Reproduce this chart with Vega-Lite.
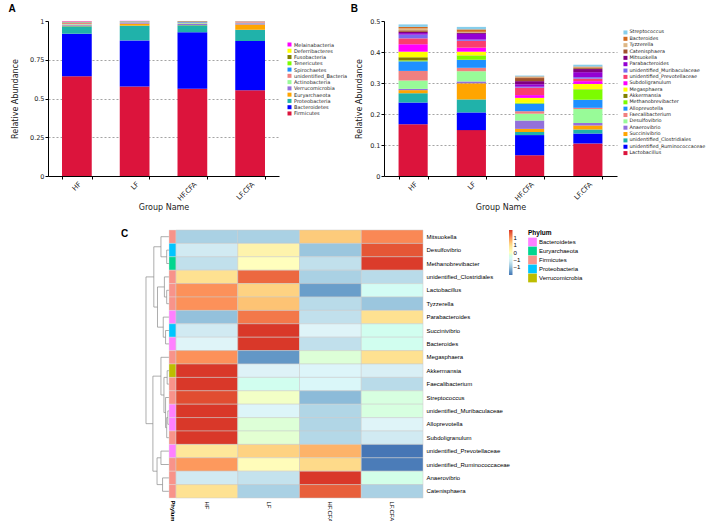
{
"$schema": "https://vega.github.io/schema/vega-lite/v6.json",
"padding": {"left": 8, "top": 4, "right": 0, "bottom": 0},
"background": "white",
"config": {"view": {"stroke": null}, "font": "DejaVu Sans"},
"datasets": {
"phylum": [
{"group":"HF","phylum":"Firmicutes","value":0.643},{"group":"HF","phylum":"Bacteroidetes","value":0.275},{"group":"HF","phylum":"Proteobacteria","value":0.048},{"group":"HF","phylum":"Euryarchaeota","value":0.004},{"group":"HF","phylum":"Verrucomicrobia","value":0.006},{"group":"HF","phylum":"Actinobacteria","value":0.004},{"group":"HF","phylum":"unidentified_Bacteria","value":0.010},{"group":"HF","phylum":"Spirochaetes","value":0.002},{"group":"HF","phylum":"Tenericutes","value":0.002},{"group":"HF","phylum":"Fusobacteria","value":0.001},{"group":"HF","phylum":"Deferribacteres","value":0.002},{"group":"HF","phylum":"Melainabacteria","value":0.003},
{"group":"LF","phylum":"Firmicutes","value":0.578},{"group":"LF","phylum":"Bacteroidetes","value":0.297},{"group":"LF","phylum":"Proteobacteria","value":0.095},{"group":"LF","phylum":"Euryarchaeota","value":0.013},{"group":"LF","phylum":"Verrucomicrobia","value":0.004},{"group":"LF","phylum":"Actinobacteria","value":0.002},{"group":"LF","phylum":"unidentified_Bacteria","value":0.003},{"group":"LF","phylum":"Spirochaetes","value":0.004},{"group":"LF","phylum":"Tenericutes","value":0.001},{"group":"LF","phylum":"Fusobacteria","value":0.001},{"group":"LF","phylum":"Deferribacteres","value":0.001},{"group":"LF","phylum":"Melainabacteria","value":0.002},
{"group":"HF.CFA","phylum":"Firmicutes","value":0.563},{"group":"HF.CFA","phylum":"Bacteroidetes","value":0.364},{"group":"HF.CFA","phylum":"Proteobacteria","value":0.045},{"group":"HF.CFA","phylum":"Euryarchaeota","value":0.003},{"group":"HF.CFA","phylum":"Verrucomicrobia","value":0.005},{"group":"HF.CFA","phylum":"Actinobacteria","value":0.006},{"group":"HF.CFA","phylum":"unidentified_Bacteria","value":0.004},{"group":"HF.CFA","phylum":"Spirochaetes","value":0.004},{"group":"HF.CFA","phylum":"Tenericutes","value":0.003},{"group":"HF.CFA","phylum":"Fusobacteria","value":0.001},{"group":"HF.CFA","phylum":"Deferribacteres","value":0.001},{"group":"HF.CFA","phylum":"Melainabacteria","value":0.001},
{"group":"LF.CFA","phylum":"Firmicutes","value":0.553},{"group":"LF.CFA","phylum":"Bacteroidetes","value":0.318},{"group":"LF.CFA","phylum":"Proteobacteria","value":0.073},{"group":"LF.CFA","phylum":"Euryarchaeota","value":0.034},{"group":"LF.CFA","phylum":"Verrucomicrobia","value":0.007},{"group":"LF.CFA","phylum":"Actinobacteria","value":0.003},{"group":"LF.CFA","phylum":"unidentified_Bacteria","value":0.005},{"group":"LF.CFA","phylum":"Spirochaetes","value":0.002},{"group":"LF.CFA","phylum":"Tenericutes","value":0.001},{"group":"LF.CFA","phylum":"Fusobacteria","value":0.001},{"group":"LF.CFA","phylum":"Deferribacteres","value":0.001},{"group":"LF.CFA","phylum":"Melainabacteria","value":0.002}
],
"genus": [
{"group":"HF","genus":"Lactobacillus","value":0.167},{"group":"HF","genus":"unidentified_Ruminococcaceae","value":0.070},{"group":"HF","genus":"unidentified_Clostridiales","value":0.030},{"group":"HF","genus":"Succinivibrio","value":0.010},{"group":"HF","genus":"Anaerovibrio","value":0.004},{"group":"HF","genus":"Desulfovibrio","value":0.027},{"group":"HF","genus":"Faecalibacterium","value":0.031},{"group":"HF","genus":"Alloprevotella","value":0.031},{"group":"HF","genus":"Methanobrevibacter","value":0.003},{"group":"HF","genus":"Akkermansia","value":0.010},{"group":"HF","genus":"Megasphaera","value":0.018},{"group":"HF","genus":"Subdoligranulum","value":0.024},{"group":"HF","genus":"unidentified_Prevotellaceae","value":0.019},{"group":"HF","genus":"unidentified_Muribaculaceae","value":0.012},{"group":"HF","genus":"Parabacteroides","value":0.005},{"group":"HF","genus":"Mitsuokella","value":0.004},{"group":"HF","genus":"Catenisphaera","value":0.005},{"group":"HF","genus":"Tyzzerella","value":0.006},{"group":"HF","genus":"Bacteroides","value":0.005},{"group":"HF","genus":"Streptococcus","value":0.008},
{"group":"LF","genus":"Lactobacillus","value":0.148},{"group":"LF","genus":"unidentified_Ruminococcaceae","value":0.057},{"group":"LF","genus":"unidentified_Clostridiales","value":0.042},{"group":"LF","genus":"Succinivibrio","value":0.052},{"group":"LF","genus":"Anaerovibrio","value":0.006},{"group":"LF","genus":"Desulfovibrio","value":0.033},{"group":"LF","genus":"Faecalibacterium","value":0.011},{"group":"LF","genus":"Alloprevotella","value":0.026},{"group":"LF","genus":"Methanobrevibacter","value":0.013},{"group":"LF","genus":"Akkermansia","value":0.001},{"group":"LF","genus":"Megasphaera","value":0.012},{"group":"LF","genus":"Subdoligranulum","value":0.013},{"group":"LF","genus":"unidentified_Prevotellaceae","value":0.022},{"group":"LF","genus":"unidentified_Muribaculaceae","value":0.004},{"group":"LF","genus":"Parabacteroides","value":0.018},{"group":"LF","genus":"Mitsuokella","value":0.003},{"group":"LF","genus":"Catenisphaera","value":0.002},{"group":"LF","genus":"Tyzzerella","value":0.002},{"group":"LF","genus":"Bacteroides","value":0.008},{"group":"LF","genus":"Streptococcus","value":0.008},
{"group":"HF.CFA","genus":"Lactobacillus","value":0.067},{"group":"HF.CFA","genus":"unidentified_Ruminococcaceae","value":0.065},{"group":"HF.CFA","genus":"unidentified_Clostridiales","value":0.010},{"group":"HF.CFA","genus":"Succinivibrio","value":0.010},{"group":"HF.CFA","genus":"Anaerovibrio","value":0.027},{"group":"HF.CFA","genus":"Desulfovibrio","value":0.022},{"group":"HF.CFA","genus":"Faecalibacterium","value":0.008},{"group":"HF.CFA","genus":"Alloprevotella","value":0.024},{"group":"HF.CFA","genus":"Methanobrevibacter","value":0.002},{"group":"HF.CFA","genus":"Akkermansia","value":0.001},{"group":"HF.CFA","genus":"Megasphaera","value":0.016},{"group":"HF.CFA","genus":"Subdoligranulum","value":0.009},{"group":"HF.CFA","genus":"unidentified_Prevotellaceae","value":0.024},{"group":"HF.CFA","genus":"unidentified_Muribaculaceae","value":0.003},{"group":"HF.CFA","genus":"Parabacteroides","value":0.008},{"group":"HF.CFA","genus":"Mitsuokella","value":0.010},{"group":"HF.CFA","genus":"Catenisphaera","value":0.010},{"group":"HF.CFA","genus":"Tyzzerella","value":0.002},{"group":"HF.CFA","genus":"Bacteroides","value":0.003},{"group":"HF.CFA","genus":"Streptococcus","value":0.003},
{"group":"LF.CFA","genus":"Lactobacillus","value":0.105},{"group":"LF.CFA","genus":"unidentified_Ruminococcaceae","value":0.032},{"group":"LF.CFA","genus":"unidentified_Clostridiales","value":0.013},{"group":"LF.CFA","genus":"Succinivibrio","value":0.013},{"group":"LF.CFA","genus":"Anaerovibrio","value":0.008},{"group":"LF.CFA","genus":"Desulfovibrio","value":0.045},{"group":"LF.CFA","genus":"Faecalibacterium","value":0.004},{"group":"LF.CFA","genus":"Alloprevotella","value":0.026},{"group":"LF.CFA","genus":"Methanobrevibacter","value":0.033},{"group":"LF.CFA","genus":"Akkermansia","value":0.001},{"group":"LF.CFA","genus":"Megasphaera","value":0.017},{"group":"LF.CFA","genus":"Subdoligranulum","value":0.009},{"group":"LF.CFA","genus":"unidentified_Prevotellaceae","value":0.008},{"group":"LF.CFA","genus":"unidentified_Muribaculaceae","value":0.005},{"group":"LF.CFA","genus":"Parabacteroides","value":0.016},{"group":"LF.CFA","genus":"Mitsuokella","value":0.010},{"group":"LF.CFA","genus":"Catenisphaera","value":0.003},{"group":"LF.CFA","genus":"Tyzzerella","value":0.002},{"group":"LF.CFA","genus":"Bacteroides","value":0.003},{"group":"LF.CFA","genus":"Streptococcus","value":0.006}
],
"heat": [
{"genus":"Mitsuokella","group":"HF","z":-0.85},{"genus":"Mitsuokella","group":"LF","z":-0.85},{"genus":"Mitsuokella","group":"HF.CFA","z":0.65},{"genus":"Mitsuokella","group":"LF.CFA","z":1.05},
{"genus":"Desulfovibrio","group":"HF","z":-0.6},{"genus":"Desulfovibrio","group":"LF","z":0.2},{"genus":"Desulfovibrio","group":"HF.CFA","z":-0.95},{"genus":"Desulfovibrio","group":"LF.CFA","z":1.35},
{"genus":"Methanobrevibacter","group":"HF","z":-0.7},{"genus":"Methanobrevibacter","group":"LF","z":0.02},{"genus":"Methanobrevibacter","group":"HF.CFA","z":-0.7},{"genus":"Methanobrevibacter","group":"LF.CFA","z":1.48},
{"genus":"unidentified_Clostridiales","group":"HF","z":0.5},{"genus":"unidentified_Clostridiales","group":"LF","z":1.25},{"genus":"unidentified_Clostridiales","group":"HF.CFA","z":-0.85},{"genus":"unidentified_Clostridiales","group":"LF.CFA","z":-0.75},
{"genus":"Lactobacillus","group":"HF","z":1.0},{"genus":"Lactobacillus","group":"LF","z":0.6},{"genus":"Lactobacillus","group":"HF.CFA","z":-1.25},{"genus":"Lactobacillus","group":"LF.CFA","z":-0.35},
{"genus":"Tyzzerella","group":"HF","z":1.0},{"genus":"Tyzzerella","group":"LF","z":0.7},{"genus":"Tyzzerella","group":"HF.CFA","z":-0.75},{"genus":"Tyzzerella","group":"LF.CFA","z":-0.95},
{"genus":"Parabacteroides","group":"HF","z":-1.0},{"genus":"Parabacteroides","group":"LF","z":1.15},{"genus":"Parabacteroides","group":"HF.CFA","z":-0.7},{"genus":"Parabacteroides","group":"LF.CFA","z":0.5},
{"genus":"Succinivibrio","group":"HF","z":-0.6},{"genus":"Succinivibrio","group":"LF","z":1.5},{"genus":"Succinivibrio","group":"HF.CFA","z":-0.5},{"genus":"Succinivibrio","group":"LF.CFA","z":-0.3},
{"genus":"Bacteroides","group":"HF","z":-0.5},{"genus":"Bacteroides","group":"LF","z":1.5},{"genus":"Bacteroides","group":"HF.CFA","z":-0.7},{"genus":"Bacteroides","group":"LF.CFA","z":-0.3},
{"genus":"Megasphaera","group":"HF","z":1.0},{"genus":"Megasphaera","group":"LF","z":-1.3},{"genus":"Megasphaera","group":"HF.CFA","z":-0.15},{"genus":"Megasphaera","group":"LF.CFA","z":0.5},
{"genus":"Akkermansia","group":"HF","z":1.5},{"genus":"Akkermansia","group":"LF","z":-0.52},{"genus":"Akkermansia","group":"HF.CFA","z":-0.48},{"genus":"Akkermansia","group":"LF.CFA","z":-0.55},
{"genus":"Faecalibacterium","group":"HF","z":1.5},{"genus":"Faecalibacterium","group":"LF","z":-0.3},{"genus":"Faecalibacterium","group":"HF.CFA","z":-0.45},{"genus":"Faecalibacterium","group":"LF.CFA","z":-0.75},
{"genus":"Streptococcus","group":"HF","z":1.4},{"genus":"Streptococcus","group":"LF","z":-0.05},{"genus":"Streptococcus","group":"HF.CFA","z":-1.05},{"genus":"Streptococcus","group":"LF.CFA","z":-0.2},
{"genus":"unidentified_Muribaculaceae","group":"HF","z":1.5},{"genus":"unidentified_Muribaculaceae","group":"LF","z":-0.48},{"genus":"unidentified_Muribaculaceae","group":"HF.CFA","z":-0.8},{"genus":"unidentified_Muribaculaceae","group":"LF.CFA","z":-0.2},
{"genus":"Alloprevotella","group":"HF","z":1.5},{"genus":"Alloprevotella","group":"LF","z":-0.15},{"genus":"Alloprevotella","group":"HF.CFA","z":-0.8},{"genus":"Alloprevotella","group":"LF.CFA","z":-0.5},
{"genus":"Subdoligranulum","group":"HF","z":1.5},{"genus":"Subdoligranulum","group":"LF","z":-0.12},{"genus":"Subdoligranulum","group":"HF.CFA","z":-0.78},{"genus":"Subdoligranulum","group":"LF.CFA","z":-0.6},
{"genus":"unidentified_Prevotellaceae","group":"HF","z":0.4},{"genus":"unidentified_Prevotellaceae","group":"LF","z":0.6},{"genus":"unidentified_Prevotellaceae","group":"HF.CFA","z":0.8},{"genus":"unidentified_Prevotellaceae","group":"LF.CFA","z":-1.52},
{"genus":"unidentified_Ruminococcaceae","group":"HF","z":0.95},{"genus":"unidentified_Ruminococcaceae","group":"LF","z":0.05},{"genus":"unidentified_Ruminococcaceae","group":"HF.CFA","z":0.55},{"genus":"unidentified_Ruminococcaceae","group":"LF.CFA","z":-1.48},
{"genus":"Anaerovibrio","group":"HF","z":-0.6},{"genus":"Anaerovibrio","group":"LF","z":-0.68},{"genus":"Anaerovibrio","group":"HF.CFA","z":1.5},{"genus":"Anaerovibrio","group":"LF.CFA","z":-0.25},
{"genus":"Catenisphaera","group":"HF","z":0.48},{"genus":"Catenisphaera","group":"LF","z":-0.85},{"genus":"Catenisphaera","group":"HF.CFA","z":1.3},{"genus":"Catenisphaera","group":"LF.CFA","z":-0.85}
],
"ann": [
{"genus":"Mitsuokella","phylum":"Firmicutes"},{"genus":"Desulfovibrio","phylum":"Proteobacteria"},{"genus":"Methanobrevibacter","phylum":"Euryarchaeota"},{"genus":"unidentified_Clostridiales","phylum":"Firmicutes"},{"genus":"Lactobacillus","phylum":"Firmicutes"},{"genus":"Tyzzerella","phylum":"Firmicutes"},{"genus":"Parabacteroides","phylum":"Bacteroidetes"},{"genus":"Succinivibrio","phylum":"Proteobacteria"},{"genus":"Bacteroides","phylum":"Bacteroidetes"},{"genus":"Megasphaera","phylum":"Firmicutes"},{"genus":"Akkermansia","phylum":"Verrucomicrobia"},{"genus":"Faecalibacterium","phylum":"Firmicutes"},{"genus":"Streptococcus","phylum":"Firmicutes"},{"genus":"unidentified_Muribaculaceae","phylum":"Bacteroidetes"},{"genus":"Alloprevotella","phylum":"Bacteroidetes"},{"genus":"Subdoligranulum","phylum":"Firmicutes"},{"genus":"unidentified_Prevotellaceae","phylum":"Bacteroidetes"},{"genus":"unidentified_Ruminococcaceae","phylum":"Firmicutes"},{"genus":"Anaerovibrio","phylum":"Firmicutes"},{"genus":"Catenisphaera","phylum":"Firmicutes"}
],
"dendro": [
{"h1":0.10,"h2":0.10,"y1":1.5,"y2":2.5},{"h1":0,"h2":0.10,"y1":1.5,"y2":1.5},{"h1":0,"h2":0.10,"y1":2.5,"y2":2.5},
{"h1":0.35,"h2":0.35,"y1":0.5,"y2":2.0},{"h1":0,"h2":0.35,"y1":0.5,"y2":0.5},{"h1":0.10,"h2":0.35,"y1":2.0,"y2":2.0},
{"h1":0.10,"h2":0.10,"y1":4.5,"y2":5.5},{"h1":0,"h2":0.10,"y1":4.5,"y2":4.5},{"h1":0,"h2":0.10,"y1":5.5,"y2":5.5},
{"h1":0.20,"h2":0.20,"y1":3.5,"y2":5.0},{"h1":0,"h2":0.20,"y1":3.5,"y2":3.5},{"h1":0.10,"h2":0.20,"y1":5.0,"y2":5.0},
{"h1":0.15,"h2":0.15,"y1":7.5,"y2":8.5},{"h1":0,"h2":0.15,"y1":7.5,"y2":7.5},{"h1":0,"h2":0.15,"y1":8.5,"y2":8.5},
{"h1":0.25,"h2":0.25,"y1":6.5,"y2":8.0},{"h1":0,"h2":0.25,"y1":6.5,"y2":6.5},{"h1":0.15,"h2":0.25,"y1":8.0,"y2":8.0},
{"h1":0.50,"h2":0.50,"y1":4.25,"y2":7.25},{"h1":0.20,"h2":0.50,"y1":4.25,"y2":4.25},{"h1":0.25,"h2":0.50,"y1":7.25,"y2":7.25},
{"h1":0.66,"h2":0.66,"y1":1.25,"y2":5.75},{"h1":0.35,"h2":0.66,"y1":1.25,"y2":1.25},{"h1":0.50,"h2":0.66,"y1":5.75,"y2":5.75},
{"h1":0.08,"h2":0.08,"y1":10.5,"y2":11.5},{"h1":0,"h2":0.08,"y1":10.5,"y2":10.5},{"h1":0,"h2":0.08,"y1":11.5,"y2":11.5},
{"h1":0.05,"h2":0.05,"y1":13.5,"y2":14.5},{"h1":0,"h2":0.05,"y1":13.5,"y2":13.5},{"h1":0,"h2":0.05,"y1":14.5,"y2":14.5},
{"h1":0.10,"h2":0.10,"y1":14.0,"y2":15.5},{"h1":0.05,"h2":0.10,"y1":14.0,"y2":14.0},{"h1":0,"h2":0.10,"y1":15.5,"y2":15.5},
{"h1":0.15,"h2":0.15,"y1":12.5,"y2":14.75},{"h1":0,"h2":0.15,"y1":12.5,"y2":12.5},{"h1":0.10,"h2":0.15,"y1":14.75,"y2":14.75},
{"h1":0.22,"h2":0.22,"y1":11.0,"y2":13.625},{"h1":0.08,"h2":0.22,"y1":11.0,"y2":11.0},{"h1":0.15,"h2":0.22,"y1":13.625,"y2":13.625},
{"h1":0.35,"h2":0.35,"y1":9.5,"y2":12.3125},{"h1":0,"h2":0.35,"y1":9.5,"y2":9.5},{"h1":0.22,"h2":0.35,"y1":12.3125,"y2":12.3125},
{"h1":0.35,"h2":0.35,"y1":16.5,"y2":17.5},{"h1":0,"h2":0.35,"y1":16.5,"y2":16.5},{"h1":0,"h2":0.35,"y1":17.5,"y2":17.5},
{"h1":0.28,"h2":0.28,"y1":18.5,"y2":19.5},{"h1":0,"h2":0.28,"y1":18.5,"y2":18.5},{"h1":0,"h2":0.28,"y1":19.5,"y2":19.5},
{"h1":0.52,"h2":0.52,"y1":17.0,"y2":19.0},{"h1":0.35,"h2":0.52,"y1":17.0,"y2":17.0},{"h1":0.28,"h2":0.52,"y1":19.0,"y2":19.0},
{"h1":0.70,"h2":0.70,"y1":10.906,"y2":18.0},{"h1":0.35,"h2":0.70,"y1":10.906,"y2":10.906},{"h1":0.52,"h2":0.70,"y1":18.0,"y2":18.0},
{"h1":1.0,"h2":1.0,"y1":3.5,"y2":14.453},{"h1":0.66,"h2":1.0,"y1":3.5,"y2":3.5},{"h1":0.70,"h2":1.0,"y1":14.453,"y2":14.453}
]
},
"spacing": 17,
"resolve": {"scale": {"color": "independent", "x": "independent", "y": "independent"}, "legend": {"color": "independent"}},
"vconcat": [
{
"spacing": 2,
"resolve": {"scale": {"color": "independent", "x": "independent", "y": "independent"}, "legend": {"color": "independent"}},
"hconcat": [
{
"width": 231, "height": 155,
"title": {"text": "A", "anchor": "start", "frame": "bounds", "fontSize": 10, "fontWeight": "bold", "font": "Liberation Sans", "offset": 4, "dx": -3},
"data": {"name": "phylum"},
"transform": [{"calculate": "indexof(['Firmicutes','Bacteroidetes','Proteobacteria','Euryarchaeota','Verrucomicrobia','Actinobacteria','unidentified_Bacteria','Spirochaetes','Tenericutes','Fusobacteria','Deferribacteres','Melainabacteria'], datum.phylum)", "as": "stack_order"}],
"mark": {"type": "bar"},
"encoding": {
"x": {"field": "group", "type": "nominal", "sort": ["HF","LF","HF.CFA","LF.CFA"], "scale": {"paddingInner": 0.485, "paddingOuter": 0.2425},
 "axis": {"title": "Group Name", "labelAngle": -45, "tickBand": "extent", "labelFontSize": 7, "titleFontSize": 8, "titleFontWeight": "normal", "tickSize": 3, "labelPadding": 1, "titlePadding": 2, "domainColor": "#000", "tickColor": "#000", "labelColor": "#222", "titleColor": "#222"}},
"y": {"field": "value", "type": "quantitative", "stack": "zero", "scale": {"domain": [0, 1], "nice": false},
 "axis": {"title": "Relative Abundance", "values": [0, 0.25, 0.5, 0.75, 1], "format": ".2~f", "labelFontSize": 6.5, "titleFontSize": 8, "titleFontWeight": "normal", "tickSize": 3, "labelPadding": 1, "titlePadding": 10, "domainColor": "#000", "tickColor": "#000", "labelColor": "#222", "titleColor": "#222",
  "grid": true, "gridDash": [2, 2], "gridColor": {"condition": {"test": "datum.value == 0 || datum.value == 1", "value": "transparent"}, "value": "#666"}, "gridWidth": 0.6}},
"order": {"field": "stack_order", "type": "quantitative", "sort": "ascending"},
"color": {"field": "phylum", "type": "nominal",
 "scale": {"domain": ["Melainabacteria","Deferribacteres","Fusobacteria","Tenericutes","Spirochaetes","unidentified_Bacteria","Actinobacteria","Verrucomicrobia","Euryarchaeota","Proteobacteria","Bacteroidetes","Firmicutes"],
  "range": ["#FF00FF","#FFFF00","#808000","#7CFC00","#1E90FF","#F08080","#98FB98","#9370DB","#FFA500","#20B2AA","#0000FF","#DC143C"]},
 "legend": {"orient": "none", "legendX": 239, "legendY": 21, "title": null, "symbolType": "square", "symbolSize": 16, "symbolStrokeWidth": 0, "labelFontSize": 5, "rowPadding": 0.27, "padding": 0, "labelOffset": 2, "labelColor": "#222"}}
}
},
{
"width": 233, "height": 155,
"title": {"text": "B", "anchor": "start", "frame": "bounds", "fontSize": 10, "fontWeight": "bold", "font": "Liberation Sans", "offset": 4, "dx": -5},
"data": {"name": "genus"},
"transform": [{"calculate": "indexof(['Lactobacillus','unidentified_Ruminococcaceae','unidentified_Clostridiales','Succinivibrio','Anaerovibrio','Desulfovibrio','Faecalibacterium','Alloprevotella','Methanobrevibacter','Akkermansia','Megasphaera','Subdoligranulum','unidentified_Prevotellaceae','unidentified_Muribaculaceae','Parabacteroides','Mitsuokella','Catenisphaera','Tyzzerella','Bacteroides','Streptococcus'], datum.genus)", "as": "stack_order"}],
"mark": {"type": "bar"},
"encoding": {
"x": {"field": "group", "type": "nominal", "sort": ["HF","LF","HF.CFA","LF.CFA"], "scale": {"paddingInner": 0.5, "paddingOuter": 0.25},
 "axis": {"title": "Group Name", "labelAngle": -45, "tickBand": "extent", "labelFontSize": 7, "titleFontSize": 8, "titleFontWeight": "normal", "tickSize": 3, "labelPadding": 1, "titlePadding": 2, "domainColor": "#000", "tickColor": "#000", "labelColor": "#222", "titleColor": "#222"}},
"y": {"field": "value", "type": "quantitative", "stack": "zero", "scale": {"domain": [0, 0.5], "nice": false},
 "axis": {"title": "Relative Abundance", "values": [0, 0.1, 0.2, 0.3, 0.4, 0.5], "format": ".1~f", "labelFontSize": 6.5, "titleFontSize": 8, "titleFontWeight": "normal", "tickSize": 3, "labelPadding": 1, "titlePadding": 6, "domainColor": "#000", "tickColor": "#000", "labelColor": "#222", "titleColor": "#222",
  "grid": true, "gridDash": [2, 2], "gridColor": {"condition": {"test": "datum.value == 0 || datum.value == 0.5", "value": "transparent"}, "value": "#666"}, "gridWidth": 0.6}},
"order": {"field": "stack_order", "type": "quantitative", "sort": "ascending"},
"color": {"field": "genus", "type": "nominal",
 "scale": {"domain": ["Streptococcus","Bacteroides","Tyzzerella","Catenisphaera","Mitsuokella","Parabacteroides","unidentified_Muribaculaceae","unidentified_Prevotellaceae","Subdoligranulum","Megasphaera","Akkermansia","Methanobrevibacter","Alloprevotella","Faecalibacterium","Desulfovibrio","Anaerovibrio","Succinivibrio","unidentified_Clostridiales","unidentified_Ruminococcaceae","Lactobacillus"],
  "range": ["#87CEEB","#D2691E","#DEB887","#A0522D","#800080","#9400D3","#7B68EE","#FA3E6E","#FF00FF","#FFFF00","#808000","#7CFC00","#1E90FF","#F08080","#98FB98","#9370DB","#FFA500","#20B2AA","#0000FF","#DC143C"]},
 "legend": {"orient": "none", "legendX": 239, "legendY": 9, "title": null, "symbolType": "square", "symbolSize": 16, "symbolStrokeWidth": 0, "labelFontSize": 4.9, "rowPadding": 0.35, "padding": 0, "labelOffset": 1.5, "labelColor": "#222"}}
}
}
]
},
{
"spacing": 0,
"bounds": "flush",
"resolve": {"scale": {"color": "independent", "x": "independent", "y": "independent"}, "legend": {"color": "independent"}},
"hconcat": [
{
"width": 121, "height": 268,
"title": {"text": "C", "anchor": "start", "frame": "group", "fontSize": 10, "fontWeight": "bold", "font": "Liberation Sans", "offset": 0, "dx": 73, "dy": 9},
"data": {"name": "dendro"},
"mark": {"type": "rule", "color": "#8a8a8a", "strokeWidth": 0.7},
"encoding": {
"x": {"field": "h1", "type": "quantitative", "scale": {"domain": [0, 5.26], "reverse": true, "nice": false, "zero": false}, "axis": null},
"x2": {"field": "h2"},
"y": {"field": "y1", "type": "quantitative", "scale": {"domain": [0, 20], "reverse": true, "nice": false, "zero": false}, "axis": null},
"y2": {"field": "y2"}
}
},
{
"width": 7, "height": 268,
"data": {"name": "ann"},
"mark": {"type": "rect", "stroke": "#dddddd", "strokeWidth": 0.4},
"encoding": {
"x": {"datum": "Phylum", "type": "nominal", "scale": {"paddingInner": 0, "paddingOuter": 0},
 "axis": {"title": null, "labelAngle": 90, "domain": false, "ticks": false, "labelFont": "Liberation Sans", "labelFontSize": 5.8, "labelFontWeight": "bold", "labelPadding": 2, "labelColor": "#000"}},
"y": {"field": "genus", "type": "nominal", "sort": null, "scale": {"paddingInner": 0, "paddingOuter": 0}, "axis": null},
"color": {"field": "phylum", "type": "nominal",
 "scale": {"domain": ["Bacteroidetes","Euryarchaeota","Firmicutes","Proteobacteria","Verrucomicrobia"], "range": ["#FF80FF","#00D68F","#F8938A","#00C5FF","#BDBD00"]},
 "legend": {"orient": "none", "legendX": 359, "legendY": 0, "title": "Phylum", "titleFont": "Liberation Sans", "titleFontSize": 6.5, "titleFontWeight": "bold", "titlePadding": 1, "symbolType": "square", "symbolSize": 76, "symbolStrokeWidth": 0, "labelFont": "Liberation Sans", "labelFontSize": 6, "rowPadding": 0, "padding": 0, "labelOffset": 2, "labelColor": "#000"}}
}
},
{
"width": 247, "height": 268,
"data": {"name": "heat"},
"mark": {"type": "rect", "stroke": "#c8c8c8", "strokeWidth": 0.5},
"encoding": {
"x": {"field": "group", "type": "nominal", "sort": ["HF","LF","HF.CFA","LF.CFA"], "scale": {"paddingInner": 0, "paddingOuter": 0},
 "axis": {"title": null, "labelAngle": 90, "domain": false, "ticks": false, "labelFont": "Liberation Sans", "labelFontSize": 6, "labelPadding": 3, "labelColor": "#000"}},
"y": {"field": "genus", "type": "nominal", "sort": null, "scale": {"paddingInner": 0, "paddingOuter": 0},
 "axis": {"orient": "right", "title": null, "domain": false, "ticks": false, "labelFont": "Liberation Sans", "labelFontSize": 6, "labelPadding": 3, "labelColor": "#000"}},
"color": {"field": "z", "type": "quantitative",
 "scale": {"domain": [-1.53, -1.02, -0.51, 0, 0.51, 1.02, 1.53], "range": ["#4575b4", "#91bfdb", "#e0f3f8", "#ffffbf", "#fee090", "#fc8d59", "#d73027"]},
 "legend": {"orient": "none", "legendX": 333, "legendY": 0, "title": null, "direction": "vertical", "gradientLength": 45, "gradientThickness": 3.5, "gradientStrokeWidth": 0, "values": [-1, -0.5, 0, 0.5, 1], "labelFont": "Liberation Sans", "labelFontSize": 6, "labelOffset": 1, "labelColor": "#000", "padding": 0}}
}
}
]
}
]
}
